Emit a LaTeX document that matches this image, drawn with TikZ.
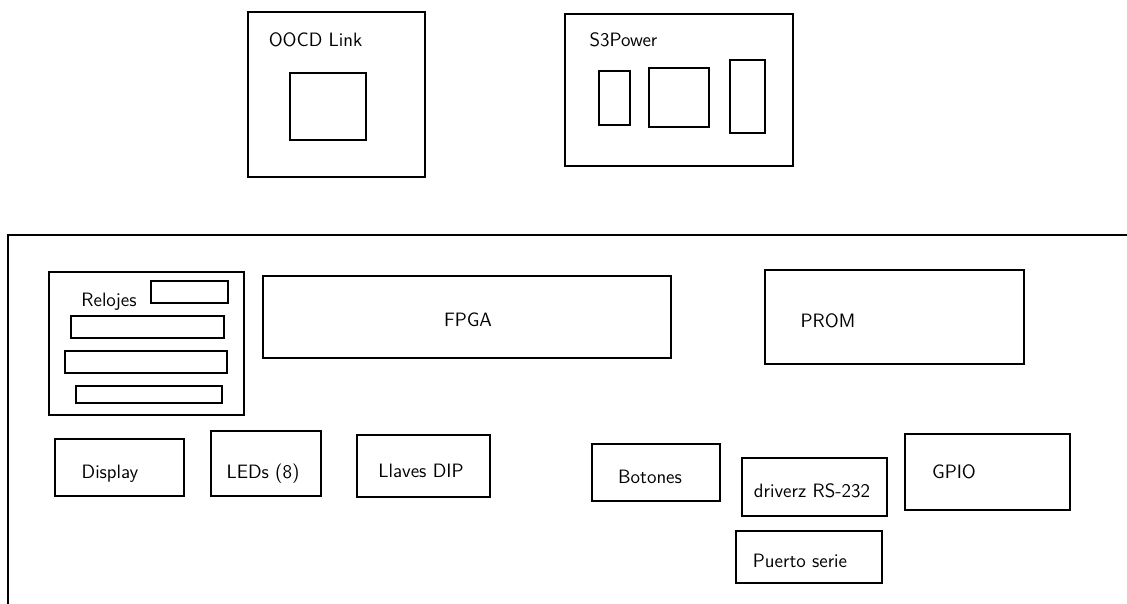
\documentclass[tikz,border=0pt]{standalone}
\begin{document}
\begin{tikzpicture}[x=0.75pt,y=-0.75pt,
  box/.style={draw=black,line width=1.8pt,rectangle,inner sep=0pt,outer sep=0pt},
  lbl/.style={anchor=base,inner sep=0pt,font=\fontsize{14.5}{17}\sffamily}]
\newcommand\pbox[5]{\node[box,minimum width={(#4-#2)*0.75pt},minimum height={(#5-#3)*0.75pt}] (#1) at ({(#2+#4)/2},{(#3+#5)/2}) {};}
\useasboundingbox (0,0) rectangle (1127,603);
\clip (0,0) rectangle (1127,603);
% board
\coordinate (bA) at (8,615);
\coordinate (bB) at (8,235);
\coordinate (bC) at (1140,235);
\draw[line width=1.8pt] (bA) -- (bB) -- (bC);
% OOCD Link
\pbox{oocd}{248}{12}{425}{177}
\pbox{oocdin}{290}{73}{366}{140}
\node[lbl] (oocdl) at (315.5,46) {OOCD Link};
% S3Power
\pbox{s3p}{565}{14}{793}{166}
\pbox{s3a}{599}{71}{630}{125}
\pbox{s3b}{649}{68}{709}{127}
\pbox{s3c}{730}{60}{765}{133}
\node[lbl] (s3pl) at (623.5,46) {S3Power};
% Relojes
\pbox{rel}{49}{272}{244}{415}
\pbox{rel1}{151}{281}{228}{303}
\pbox{rel2}{71}{316}{224}{338}
\pbox{rel3}{65}{351}{227}{373}
\pbox{rel4}{76}{386}{222}{403}
\node[lbl] (rell) at (109,306) {Relojes};
% FPGA, PROM
\pbox{fpga}{263}{276}{671}{358}
\node[lbl] (fpgal) at (468,326) {FPGA};
\pbox{prom}{765}{270}{1024}{364}
\node[lbl] (proml) at (828,327) {PROM};
% bottom row
\pbox{disp}{55}{439}{184}{496}
\node[lbl] (displ) at (110,478) {Display};
\pbox{leds}{211}{431}{321}{496}
\node[lbl] (ledsl) at (263,478) {LEDs (8)};
\pbox{dip}{357}{435}{490}{497}
\node[lbl] (dipl) at (421,477) {Llaves DIP};
\pbox{bot}{592}{444}{720}{501}
\node[lbl] (botl) at (650,483) {Botones};
\pbox{drv}{742}{458}{887}{516}
\node[lbl] (drvl) at (812,497) {driverz RS-232};
\pbox{gpio}{905}{434}{1070}{510}
\node[lbl] (gpiol) at (954,478) {GPIO};
\pbox{pser}{736}{531}{882}{583}
\node[lbl] (pserl) at (800,567) {Puerto serie};
\end{tikzpicture}
\end{document}
